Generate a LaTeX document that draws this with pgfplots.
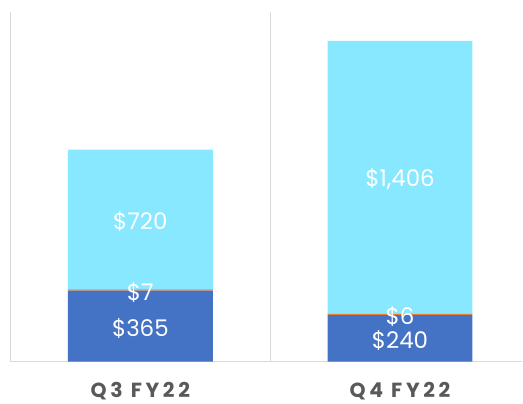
\documentclass[border=0pt]{standalone}
\usepackage{pgfplots}
\pgfplotsset{compat=1.18}
\usepackage{fontspec}
\setmainfont{Poppins}
\newfontfamily\tickfont[LetterSpace=18]{Poppins}
\definecolor{cblue}{HTML}{4472C4}
\definecolor{corange}{HTML}{ED7D31}
\definecolor{ccyan}{HTML}{87E8FF}
\definecolor{cgrid}{HTML}{D9D9D9}
\definecolor{ctext}{HTML}{595959}
\begin{document}
\begin{tikzpicture}
\begin{axis}[
  scale only axis,
  width=512.5bp, height=350bp,
  ybar stacked, bar width=145bp,
  xmin=-0.5, xmax=1.4712,
  ymin=0, ymax=1801,
  axis x line*=bottom, axis y line*=left,
  axis line style={cgrid, line width=1.2pt},
  ytick=\empty,
  xtick={0,1}, xticklabels={Q3 FY22, Q4 FY22},
  xtick style={draw=none},
  extra x ticks={0.5}, extra x tick labels={},
  extra x tick style={grid=major, major grid style={cgrid, line width=1.2pt}, tick style={draw=none}},
  xticklabel style={font=\tickfont\fontsize{20.5}{20.5}\selectfont\bfseries, text=ctext, yshift=-17bp},
  clip=false,
]
\addplot[fill=cblue, draw=none] coordinates {(0,365) (1,240)};
\addplot[fill=corange, draw=none] coordinates {(0,7) (1,6)};
\addplot[fill=ccyan, draw=none] coordinates {(0,720) (1,1406)};
\end{axis}
\begin{axis}[
  scale only axis,
  width=512.5bp, height=350bp,
  xmin=-0.5, xmax=1.4712,
  ymin=0, ymax=1801,
  hide axis, clip=false,
]
\addplot[draw=none, mark=none, nodes near coords, point meta=explicit symbolic,
  every node near coord/.style={text=white, font=\fontsize{23}{23}\selectfont, anchor=center, yshift=-2bp}]
  table[meta=lbl] {
x y lbl
0 182.5 \$365
0 368.5 \$7
0 732 \$720
1 120 \$240
1 243 \$6
1 949 \$1,406
};
\end{axis}
\path[use as bounding box] ([shift={(-10.5bp,-39bp)}]current axis.south west) rectangle ([shift={(0,12bp)}]current axis.north east);
\end{tikzpicture}
\end{document}
